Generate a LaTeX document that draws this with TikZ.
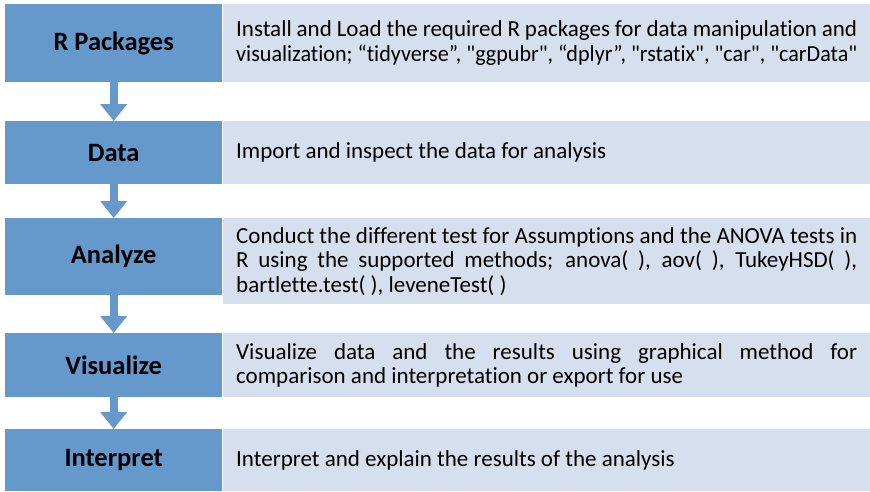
\documentclass[tikz,border=0pt]{standalone}
\usepackage{fontspec}
\setmainfont{Carlito}[Ligatures={TeXOff,CommonOff}]
\usetikzlibrary{arrows.meta}
\definecolor{stepblue}{HTML}{6598CB}
\definecolor{steplight}{HTML}{D6DFEE}
\newcommand\nohyph{\hyphenpenalty=10000\relax\exhyphenpenalty=10000\relax}
% set one line condensed to the full text width
\newcommand\fitline[1]{\resizebox{\linewidth}{\height}{#1}}
\tikzset{
  stage/.style={fill=stepblue, draw=none, anchor=north west, minimum width=217pt,
    inner sep=0pt, font=\fontsize{26.5pt}{30pt}\selectfont\bfseries, text=black},
  desc/.style={fill=steplight, draw=none, anchor=north west, minimum width=647pt,
    text width=621pt, inner xsep=13pt, inner ysep=0pt, align=justify,
    font=\fontsize{23pt}{24.5pt}\selectfont\nohyph, text=black},
  flow/.style={draw=stepblue, line width=8pt,
    -{Triangle[width=26pt,length=17pt]}}
}
\begin{document}
\begin{tikzpicture}[x=1pt,y=-1pt]
\useasboundingbox (0,0) rectangle (870,491);
% description panels (drawn first so the stage boxes sit on top)
\node[desc, minimum height=78pt] (d1) at (223,4)
  {Install and Load the required R packages for data manipulation and\linebreak \fitline{visualization; “tidyverse”, "ggpubr", “dplyr”, "rstatix", "car", "carData"}};
\node[desc, minimum height=63pt] (d2) at (223,121)
  {Import and inspect the data for analysis};
\node[desc, minimum height=86pt] (d3) at (223,218)
  {Conduct the different test for Assumptions and the ANOVA tests in\linebreak R using the supported methods; anova( ), aov( ), TukeyHSD( ),\linebreak bartlette.test( ), leveneTest( )};
\node[desc, minimum height=64pt] (d4) at (223,333)
  {Visualize data and the results using graphical method for\linebreak comparison and interpretation or export for use};
\node[desc, minimum height=62pt] (d5) at (223,429)
  {Interpret and explain the results of the analysis};
% stage boxes
\node[stage, minimum height=78pt] (s1) at (5,4) {R Packages};
\node[stage, minimum height=63pt] (s2) at (5,121) {Data};
\node[stage, minimum height=77pt] (s3) at (5,218) {Analyze};
\node[stage, minimum height=64pt] (s4) at (5,333) {Visualize};
\node[stage, minimum height=62pt] (s5) at (5,429) {Interpret};
% flow arrows between stages
\draw[flow] (s1.south) -- (s2.north);
\draw[flow] (s2.south) -- (s3.north);
\draw[flow] (s3.south) -- (s4.north);
\draw[flow] (s4.south) -- (s5.north);
\end{tikzpicture}
\end{document}
